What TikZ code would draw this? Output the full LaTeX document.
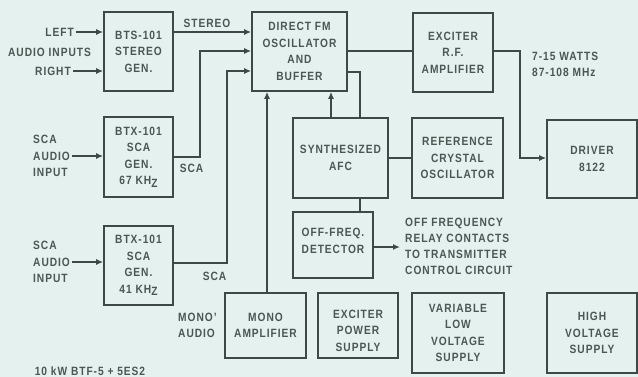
\documentclass[tikz,border=0pt]{standalone}
\usepackage{fontspec}
\setmainfont{Liberation Sans}[LetterSpace=8, FakeStretch=0.85]
\usetikzlibrary{arrows.meta}
\definecolor{bg}{HTML}{E4F1EE}
\definecolor{ln}{HTML}{3C4A45}
\definecolor{tx}{HTML}{4A5752}
\tikzset{
  blk/.style={draw=ln, line width=1.6pt, inner sep=0pt, align=center, text=tx,
              font=\fontsize{12}{16.5}\selectfont\bfseries},
  lbl/.style={inner sep=1pt, text=tx, font=\fontsize{12}{16}\selectfont\bfseries},
  wire/.style={draw=ln, line width=1.6pt},
  arr/.style={wire, -{Latex[length=7pt,width=6pt]}},
}
\begin{document}
\begin{tikzpicture}[x=1pt,y=-1pt]
\fill[bg] (0,0) rectangle (638,377);
\useasboundingbox (0,0) rectangle (638,377);
% boxes
\node[blk, minimum width=69pt, minimum height=79pt] (bts) at (138.5,51.5) {BTS-101\\STEREO\\GEN.};
\node[blk, minimum width=95pt, minimum height=79pt] (dfm) at (299.5,51.5) {DIRECT FM\\OSCILLATOR\\AND\\BUFFER};
\node[blk, minimum width=80pt, minimum height=79pt] (exc) at (453,52.5) {EXCITER\\R.F.\\AMPLIFIER};
\node[blk, minimum width=69pt, minimum height=80pt] (sca67) at (138.5,157) {BTX-101\\SCA\\GEN.\\67 KH\raisebox{-2.5pt}{Z}};
\node[blk, minimum width=69pt, minimum height=79pt] (sca41) at (138.5,265.5) {BTX-101\\SCA\\GEN.\\41 KH\raisebox{-2.5pt}{Z}};
\node[blk, minimum width=95pt, minimum height=80pt] (afc) at (340.5,158) {SYNTHESIZED\\AFC};
\node[blk, minimum width=91pt, minimum height=80pt] (ref) at (457.5,158) {REFERENCE\\CRYSTAL\\OSCILLATOR};
\node[blk, minimum width=90pt, minimum height=78pt] (drv) at (592,159) {DRIVER\\8122};
\node[blk, minimum width=80pt, minimum height=66pt] (off) at (333,245) {OFF-FREQ.\\DETECTOR\\[-8.5pt]\rule{0pt}{0pt}};
\node[blk, minimum width=81pt, minimum height=65pt] (mono) at (265.5,325.5) {MONO\\AMPLIFIER};
\node[blk, minimum width=80pt, minimum height=65pt] (eps) at (358,325.5) {\rule{0pt}{8.6pt}\\[-6.5pt]EXCITER\\POWER\\SUPPLY};
\node[blk, minimum width=92pt, minimum height=80pt] (vlv) at (458,333) {VARIABLE\\LOW\\VOLTAGE\\SUPPLY};
\node[blk, minimum width=90pt, minimum height=80pt] (hv) at (592,333) {HIGH\\VOLTAGE\\SUPPLY};
% labels
\node[lbl, anchor=east] (left) at (75,32) {LEFT};
\node[lbl, anchor=east] (right) at (72,71) {RIGHT};
\node[lbl] (ain) at (49.5,52) {AUDIO INPUTS};
\node[lbl] (stereo) at (207,23) {STEREO};
\node[lbl, align=left, anchor=west, font=\fontsize{12}{16.5}\selectfont\bfseries] (in67) at (32,156) {SCA\\AUDIO\\INPUT};
\node[lbl, align=left, anchor=west, font=\fontsize{12}{16.5}\selectfont\bfseries] (in41) at (32,262) {SCA\\AUDIO\\INPUT};
\node[lbl] (scaa) at (191.5,168) {SCA};
\node[lbl] (scab) at (214.5,276) {SCA};
\node[lbl, align=left, anchor=west] (monoin) at (177,325) {MONO'\\AUDIO};
\node[lbl, align=left, anchor=west] (watts) at (531,64) {7-15 WATTS\\87-108 MHz};
\node[lbl, align=left, anchor=west] (relay) at (404,246.5) {OFF FREQUENCY\\RELAY CONTACTS\\TO TRANSMITTER\\CONTROL CIRCUIT};
\node[lbl] (model) at (90,371) {10 kW BTF-5 + 5ES2};
% connectors
\coordinate (relayin) at (400,247);
\draw[arr] ([xshift=1pt]left.east) -- (left.east -| bts.west);
\draw[arr] ([xshift=1pt]right.east) -- (right.east -| bts.west);
\draw[arr] ([xshift=1pt]in67.east) -- (in67.east -| sca67.west);
\draw[arr] ([xshift=1pt]in41.east) -- (in41.east -| sca41.west);
\draw[arr] (bts.east |- 0,32) -- (dfm.west |- 0,32);
\draw[arr] (sca67.east |- 0,157) -- (200,157) -- (200,51) -- (dfm.west |- 0,51);
\draw[arr] (sca41.east |- 0,263) -- (227,263) -- (227,71) -- (dfm.west |- 0,71);
\draw[arr] (mono.north -| 267,0) -- (dfm.south -| 267,0);
\draw[arr] (afc.north -| 331,0) -- (dfm.south -| 331,0);
\draw[wire] (dfm.east |- 0,72) -- (360,72) -- (afc.north -| 360,0);
\draw[wire] (dfm.east |- 0,51) -- (exc.west |- 0,51);
\draw[arr] (exc.east |- 0,51) -- (520,51) -- (520,158) -- (drv.west |- 0,158);
\draw[wire] (afc.east) -- (ref.west);
\draw[wire] (afc.south -| 360,0) -- (off.north -| 360,0);
\draw[arr] (off.east |- relayin) -- (relayin);
\end{tikzpicture}
\end{document}
